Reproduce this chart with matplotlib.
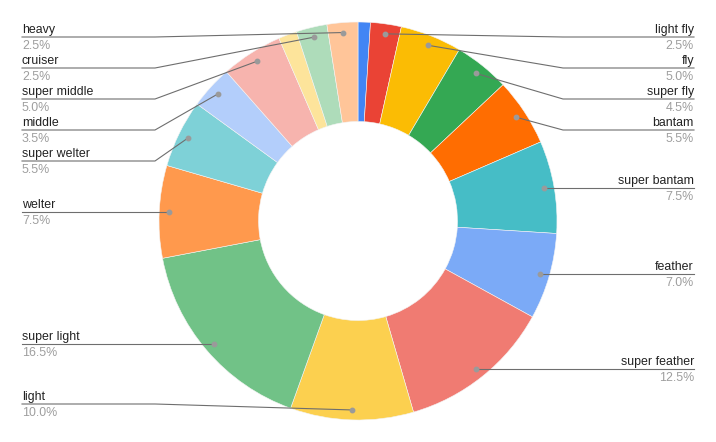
import matplotlib
matplotlib.use("Agg")
import matplotlib.pyplot as plt
import numpy as np

# weight classes, clockwise from 12 o'clock
classes = ["minimum", "light fly", "fly", "super fly", "bantam", "super bantam",
           "feather", "super feather", "light", "super light", "welter",
           "super welter", "middle", "super middle", "light heavy", "cruiser", "heavy"]
shares = [1.0, 2.5, 5.0, 4.5, 5.5, 7.5, 7.0, 12.5, 10.0, 16.5, 7.5, 5.5, 3.5, 5.0, 1.5, 2.5, 2.5]
labelled = [False, True, True, True, True, True, True, True, True, True, True,
            True, True, True, False, True, True]
colors = ["#4285F4", "#EA4335", "#FBBC04", "#34A853", "#FF6D01", "#46BDC6",
          "#7BAAF7", "#F07B72", "#FCD04F", "#71C287", "#FF994D", "#7ED1D7",
          "#B3CEFB", "#F7B4AE", "#FDE49B", "#AEDCBA", "#FFC599"]

W, H = 716, 442
cx, cy, R = 358, 221, 199

fig = plt.figure(figsize=(W / 100, H / 100), dpi=100)
ax = fig.add_axes([0, 0, 1, 1])
wedges, _ = ax.pie(shares, colors=colors, startangle=90, counterclock=False,
                   radius=R, center=(cx, cy),
                   wedgeprops=dict(width=R * 0.5, edgecolor="#f4f4f4", linewidth=0.4))
ax.set_xlim(0, W)
ax.set_ylim(0, H)
ax.set_aspect("equal")
ax.axis("off")

# anchor dots near outer edge at the middle of each slice
dots = []
for w, name, share, show in zip(wedges, classes, shares, labelled):
    if not show:
        continue
    mid = np.deg2rad((w.theta1 + w.theta2) / 2)
    dots.append((name, share, cx + 0.95 * R * np.cos(mid), cy + 0.95 * R * np.sin(mid)))

top, bottom, gap = H - 37, H - 404, 31
font = dict(family=["Liberation Sans", "DejaVu Sans"], fontsize=8.9)
line_kw = dict(color="#6e6e6e", lw=0.8, zorder=3)

for side in ("left", "right"):
    items = [d for d in dots if (d[2] < cx) == (side == "left")]
    items.sort(key=lambda d: -d[3])
    ys = []
    prev = top + gap
    for d in items:
        y = min(d[3], prev - gap)
        ys.append(y)
        prev = y
    nxt = bottom - gap
    for i in range(len(ys) - 1, -1, -1):
        ys[i] = max(ys[i], nxt + gap)
        nxt = ys[i]

    tx = 22 if side == "left" else 694
    elbow = 155 if side == "left" else 563
    ha = "left" if side == "left" else "right"
    for (name, share, dx, dy), ly in zip(items, ys):
        if abs(ly - dy) < 0.5:
            ax.plot([tx, dx], [ly, dy], **line_kw)
        else:
            ax.plot([tx, elbow, dx], [ly, ly, dy], **line_kw)
        ax.plot(dx, dy, "o", ms=3.2, color="#9a9a9a", zorder=4)
        ax.text(tx, ly + 4, name, ha=ha, va="baseline", color="#222222", **font)
        ax.text(tx, ly - 12, f"{share:.1f}%", ha=ha, va="baseline", color="#9e9e9e", **font)

fig.savefig("out.png", dpi=100, facecolor="white")
